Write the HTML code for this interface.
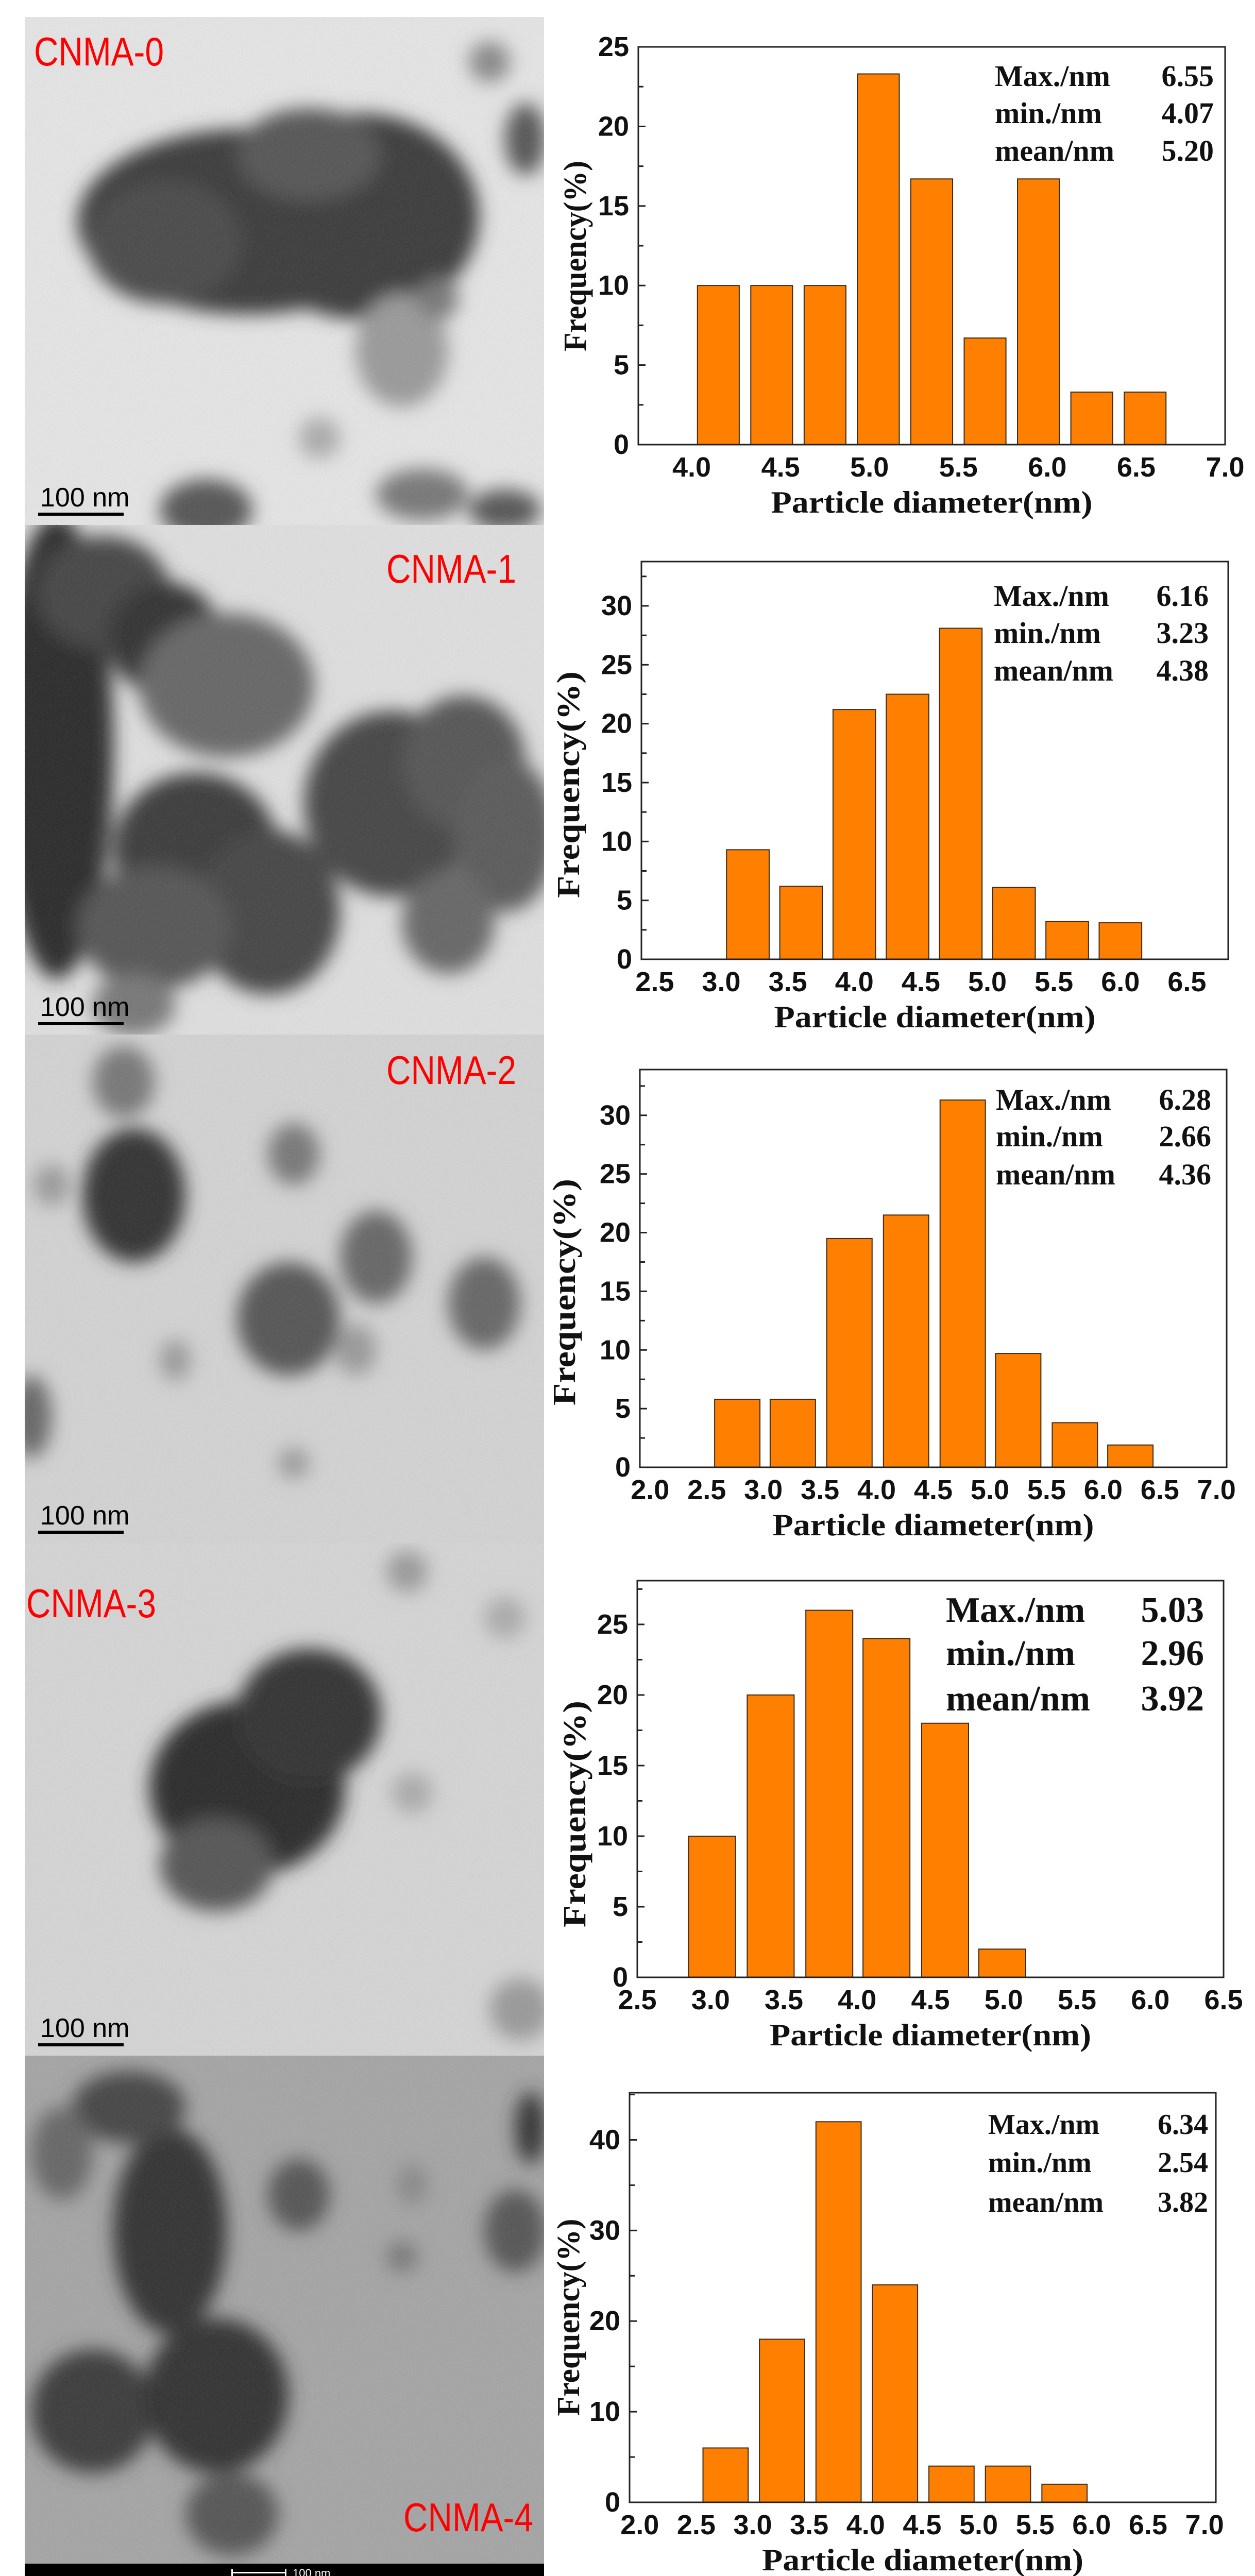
<!DOCTYPE html>
<html><head><meta charset="utf-8"><style>
html,body{margin:0;padding:0;background:#fff;width:2436px;height:5043px;overflow:hidden;}
svg{display:block;position:absolute;left:0;top:0;}
.tk{font-family:"Liberation Sans",Arial,sans-serif;font-weight:bold;font-size:54px;fill:#111;}
.ttl{font-family:"Liberation Serif","Times New Roman",serif;font-weight:bold;fill:#111;}
.lab{font-family:"Liberation Sans",Arial,sans-serif;fill:#ff0000;font-size:78px;}
.sb{font-family:"Liberation Sans",Arial,sans-serif;fill:#000;font-size:52px;}
</style></head><body>
<svg id="fig" width="2436" height="5043" viewBox="0 0 2436 5043" overflow="hidden" xmlns="http://www.w3.org/2000/svg">
<defs>
<filter id="blur" filterUnits="userSpaceOnUse" x="0" y="0" width="2436" height="5043"><feGaussianBlur stdDeviation="18"/></filter>
<filter id="noise" filterUnits="userSpaceOnUse" x="0" y="0" width="2436" height="5043"><feTurbulence type="fractalNoise" baseFrequency="0.35" numOctaves="2" seed="3"/><feColorMatrix type="saturate" values="0"/></filter>
</defs>
<g id="tem"></g>
<g id="charts"></g>
</svg>
<script>
// ---- chart data ----
const xCenters0 = [4.15,4.45,4.75,5.05,5.35,5.65,5.95,6.25,6.55];
const freq0 = [10,10,10,23.3,16.7,6.7,16.7,3.3,3.3];
const xCenters1 = [3.2,3.6,4.0,4.4,4.8,5.2,5.6,6.0];
const freq1 = [9.3,6.2,21.2,22.5,28.1,6.1,3.2,3.1];
const xCenters2 = [2.77,3.26,3.76,4.26,4.76,5.25,5.75,6.24];
const freq2 = [5.8,5.8,19.5,21.5,31.3,9.7,3.8,1.9];
const xCenters3 = [3.01,3.41,3.81,4.2,4.6,4.99];
const freq3 = [10,20,26,24,18,2];
const xCenters4 = [2.76,3.26,3.76,4.26,4.76,5.26,5.76];
const freq4 = [6,18,42,24,4,4,2];
const xTicks0 = ["4.0","4.5","5.0","5.5","6.0","6.5","7.0"];
const xTicks1 = ["2.5","3.0","3.5","4.0","4.5","5.0","5.5","6.0","6.5"];
const xTicks2 = ["2.0","2.5","3.0","3.5","4.0","4.5","5.0","5.5","6.0","6.5","7.0"];
const xTicks3 = ["2.5","3.0","3.5","4.0","4.5","5.0","5.5","6.0","6.5"];
const xTicks4 = ["2.0","2.5","3.0","3.5","4.0","4.5","5.0","5.5","6.0","6.5","7.0"];
const yTicks0 = [0,5,10,15,20,25];
const yTicks1 = [0,5,10,15,20,25,30];
const yTicks2 = [0,5,10,15,20,25,30];
const yTicks3 = [0,5,10,15,20,25];
const yTicks4 = [0,10,20,30,40];
const statLabels = ["Max./nm","min./nm","mean/nm"];
const stats0 = ["6.55","4.07","5.20"];
const stats1 = ["6.16","3.23","4.38"];
const stats2 = ["6.28","2.66","4.36"];
const stats3 = ["5.03","2.96","3.92"];
const stats4 = ["6.34","2.54","3.82"];

const NS="http://www.w3.org/2000/svg";
function mk(tag,attrs,parent,text){const e=document.createElementNS(NS,tag);for(const k in attrs)e.setAttribute(k,attrs[k]);if(text!==undefined)e.textContent=text;parent.appendChild(e);return e;}

const charts=[
 {L:1239,R:2378,T:91,B:863,xmin:3.7,xmax:7.0,ymax:25,minor:2.5,bw:0.235,xc:xCenters0,v:freq0,xt:xTicks0,yt:yTicks0,st:stats0,sx:1931,se:2356,sy:[167,239,312],sf:58,ylx:1117,yly:497,yll:370},
 {L:1245,R:2384,T:1090,B:1862,xmin:2.4,xmax:6.81,ymax:33.76,minor:2.5,bw:0.32,xc:xCenters1,v:freq1,xt:xTicks1,yt:yTicks1,st:stats1,sx:1929,se:2346,sy:[1176,1248,1321],sf:58,ylx:1104,yly:1523,yll:440},
 {L:1242,R:2381,T:2076,B:2848,xmin:1.91,xmax:7.09,ymax:33.9,minor:2.5,bw:0.4,xc:xCenters2,v:freq2,xt:xTicks2,yt:yTicks2,st:stats2,sx:1933,se:2351,sy:[2154,2225,2299],sf:58,ylx:1096,yly:2508,yll:440},
 {L:1237,R:2375,T:3068,B:3838,xmin:2.5,xmax:6.5,ymax:28.1,minor:2.5,bw:0.32,xc:xCenters3,v:freq3,xt:xTicks3,yt:yTicks3,st:stats3,sx:1836,se:2337,sy:[3148,3232,3320],sf:70,ylx:1116,yly:3521,yll:440},
 {L:1222,R:2360,T:4062,B:4857,xmin:1.91,xmax:7.1,ymax:45.2,minor:5,bw:0.4,xc:xCenters4,v:freq4,xt:xTicks4,yt:yTicks4,st:stats4,sx:1918,se:2345,sy:[4142,4216,4293],sf:56,ylx:1104,yly:4498,yll:383}
];
const CG=document.getElementById('charts');
charts.forEach((c,ci)=>{
  const g=mk('g',{},CG);
  
  
  const X=v=>c.L+(v-c.xmin)/(c.xmax-c.xmin)*(c.R-c.L);
  const Y=v=>c.B-v/c.ymax*(c.B-c.T);
  c.xc.forEach((xv,i)=>{
    const x0=X(xv-c.bw/2),x1=X(xv+c.bw/2);
    const r=mk('rect',{x:x0,y:Y(c.v[i]),width:x1-x0,height:c.B-Y(c.v[i]),fill:'#ff8000',stroke:'#3a2a1a','stroke-width':2},g);
    
    
  });
  const f=mk('rect',{x:c.L,y:c.T,width:c.R-c.L,height:c.B-c.T,fill:'none',stroke:'#222','stroke-width':3},g);
  
  
  for(let v=0;v<=c.ymax;v+=c.minor){mk('line',{x1:c.L,x2:c.L+(v%(c.minor*2)===0?14:10),y1:Y(v),y2:Y(v),stroke:'#222','stroke-width':3},g);}
  c.yt.forEach(v=>{
    const t=mk('text',{x:c.L-18,y:Y(v),'text-anchor':'end','dominant-baseline':'central',class:'tk'},g,String(v));
    
    
  });
  c.xt.forEach(s=>{
    const t=mk('text',{x:X(parseFloat(s)),y:c.B+62,'text-anchor':'middle',class:'tk'},g,s);
    
    
  });
  const xt=mk('text',{x:(c.L+c.R)/2,y:c.B+132,'text-anchor':'middle',class:'ttl','font-size':60,textLength:624,lengthAdjust:'spacingAndGlyphs'},g,'Particle diameter(nm)');
  
  
  const yt=mk('text',{x:0,y:0,'text-anchor':'middle','dominant-baseline':'central',class:'ttl','font-size':62,textLength:c.yll,lengthAdjust:'spacingAndGlyphs',transform:`translate(${c.ylx},${c.yly}) rotate(-90)`},g,'Frequency(%)');
  
  
  statLabels.forEach((s,i)=>{
    const a=mk('text',{x:c.sx,y:c.sy[i],class:'ttl','font-size':c.sf},g,s);
    
    
    const b=mk('text',{x:c.se,y:c.sy[i],'text-anchor':'end',class:'ttl','font-size':c.sf},g,c.st[i]);
    
    
  });
});

const TG=document.getElementById('tem');
const panels=[
 {y0:33,y1:1019,bg:'#e4e4e4',label:'CNMA-0',lx:66,ly:127,
  blobs:[[480,430,330,180,'#3a3a3a'],[320,470,150,120,'#4a4a4a'],[700,420,230,200,'#3a3a3a'],[600,300,140,90,'#555'],[1020,270,40,70,'#555'],[950,120,40,40,'#888'],[780,680,90,110,'#999'],[850,580,40,40,'#777'],[400,990,90,60,'#555'],[820,960,90,50,'#777'],[980,990,70,40,'#555'],[620,850,40,40,'#aaa']]},
 {y0:1019,y1:2008,bg:'#dedede',label:'CNMA-1',lx:750,ly:1131,
  blobs:[[110,1450,110,450,'#2a2a2a'],[200,1150,130,110,'#444'],[320,1240,110,110,'#333'],[440,1330,170,140,'#666'],[380,1650,160,150,'#3a3a3a'],[520,1770,140,160,'#444'],[300,1800,150,120,'#555'],[760,1560,170,180,'#444'],[900,1480,120,130,'#555'],[980,1620,100,150,'#5a5a5a'],[870,1790,90,100,'#666'],[260,1950,80,60,'#777']]},
 {y0:2008,y1:2995,bg:'#d2d2d2',label:'CNMA-2',lx:750,ly:2104,
  blobs:[[240,2100,60,70,'#777'],[260,2320,100,130,'#333'],[570,2240,50,60,'#777'],[560,2560,100,110,'#555'],[730,2440,70,90,'#666'],[940,2530,70,90,'#666'],[100,2300,35,40,'#999'],[340,2640,30,40,'#999'],[690,2620,40,50,'#999'],[60,2750,40,80,'#666'],[570,2840,30,30,'#999']]},
 {y0:2995,y1:3990,bg:'#d4d4d4',label:'CNMA-3',lx:51,ly:3139,
  blobs:[[480,3470,190,170,'#2c2c2c'],[600,3330,140,130,'#333'],[420,3620,110,90,'#555'],[790,3050,40,40,'#999'],[980,3140,40,40,'#aaa'],[800,3480,40,40,'#aaa'],[1010,3900,60,60,'#999']]},
 {y0:3990,y1:4976,bg:'#a4a4a4',label:'CNMA-4',lx:783,ly:4913,
  blobs:[[330,4330,110,200,'#333'],[250,4090,110,70,'#444'],[120,4180,60,90,'#666'],[180,4680,120,120,'#3a3a3a'],[420,4650,140,150,'#333'],[450,4880,90,80,'#555'],[580,4260,60,70,'#555'],[1000,4330,60,80,'#555'],[1030,4130,30,70,'#333'],[780,4380,30,30,'#777'],[800,4240,30,40,'#888']]}
];
panels.forEach((p,pi)=>{
  const g=mk('g',{},TG);
  
  
  mk('rect',{x:48,y:p.y0,width:1008,height:p.y1-p.y0,fill:p.bg},g);
  const cp=mk('clipPath',{id:'cp'+pi},g);
  mk('rect',{x:48,y:p.y0,width:1008,height:p.y1-p.y0},cp);
  const outer=mk('g',{'clip-path':`url(#cp${pi})`},g);
  const bg=mk('g',{filter:'url(#blur)'},outer);
  p.blobs.forEach(b=>mk('ellipse',{cx:b[0],cy:b[1],rx:b[2],ry:b[3],fill:b[4]},bg));
  mk('rect',{x:48,y:p.y0,width:1008,height:p.y1-p.y0,filter:'url(#noise)',opacity:0.12},outer);
  const lb=mk('text',{x:p.lx,y:p.ly,class:'lab',textLength:252,lengthAdjust:'spacingAndGlyphs'},g,p.label);
  
  
  if(pi<4){
    const sb=p.y1-24;
    mk('rect',{x:74,y:sb,width:166,height:6,fill:'#000'},g);
    const st=mk('text',{x:78,y:sb-12,class:'sb'},g,'100 nm');
    
    
  } else {
    mk('rect',{x:48,y:4976,width:1008,height:34,fill:'#000'},g);
    mk('rect',{x:449,y:4992,width:107,height:3,fill:'#fff'},g);
    mk('rect',{x:449,y:4986,width:3,height:15,fill:'#fff'},g);
    mk('rect',{x:553,y:4986,width:3,height:15,fill:'#fff'},g);
    const st=mk('text',{x:568,y:5002,fill:'#fff','font-family':'Liberation Sans, Arial, sans-serif','font-size':22},g,'100 nm');
    
    
  }
});
</script>
</body></html>
